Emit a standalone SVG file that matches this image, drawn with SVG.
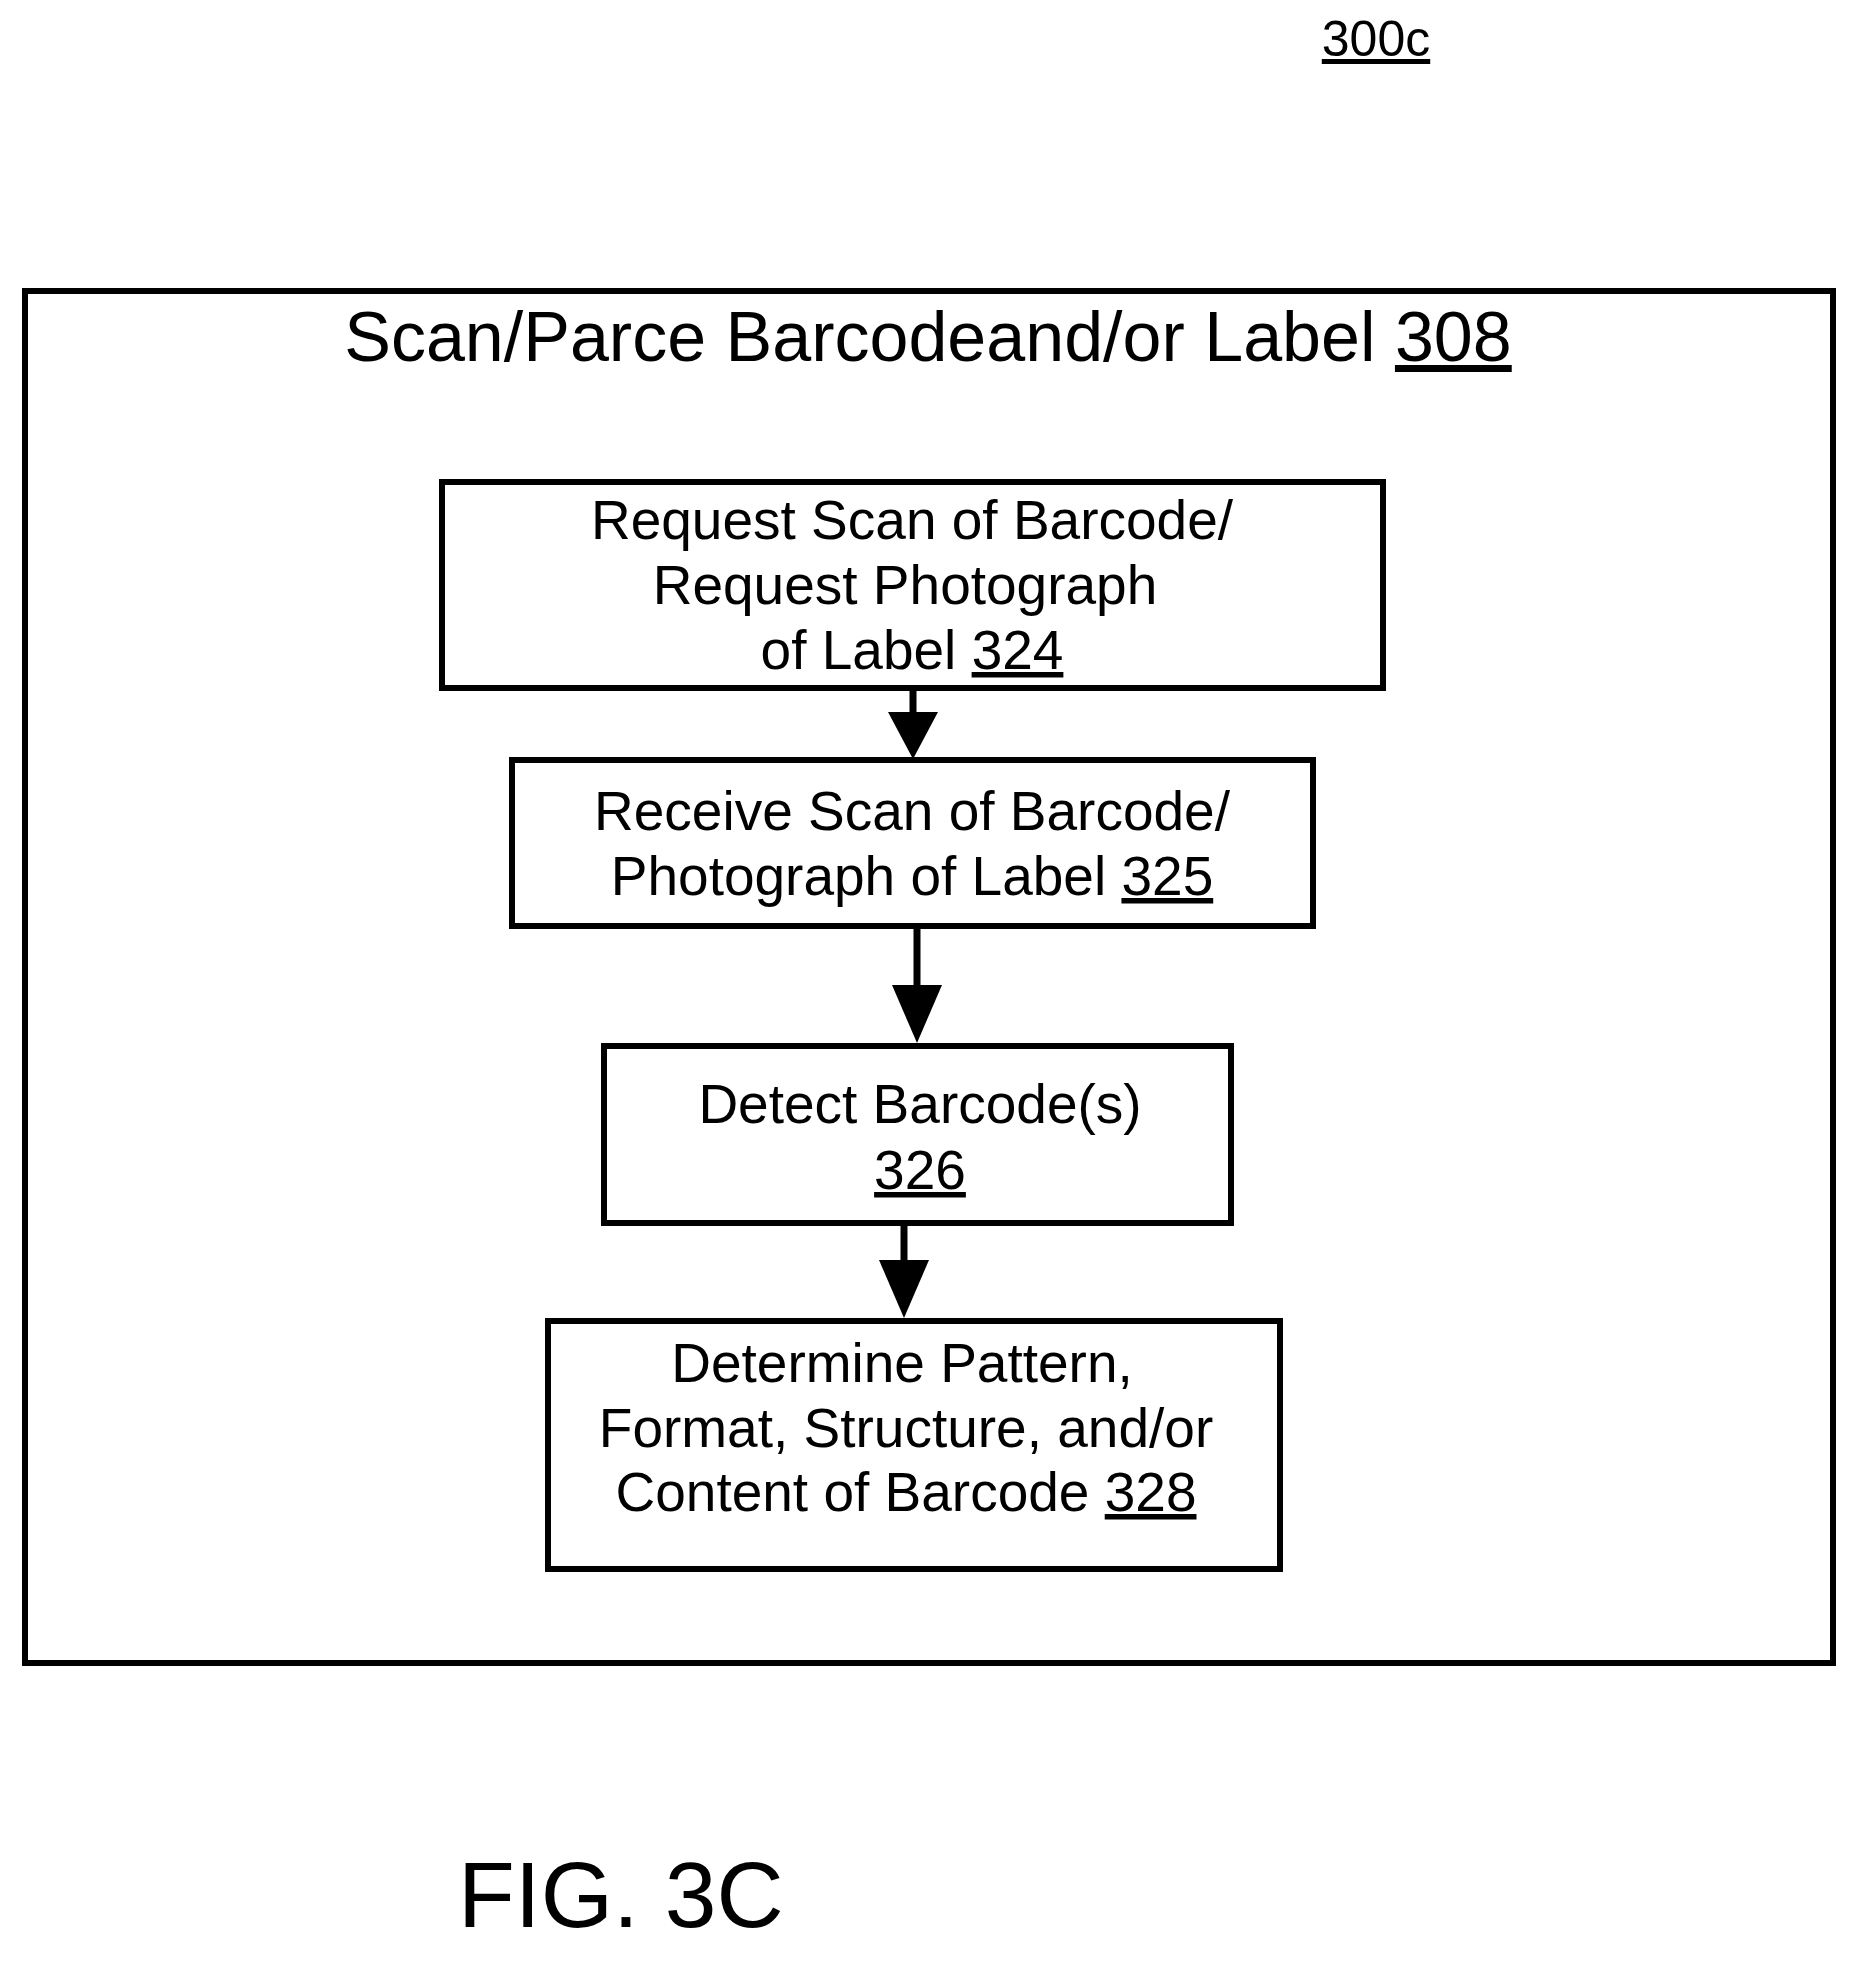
<svg xmlns="http://www.w3.org/2000/svg" width="1868" height="1964" viewBox="0 0 1868 1964">
<style>
.b{fill:none;stroke:#000;stroke-width:6}
.t{font-family:"Liberation Sans",Arial,sans-serif;font-size:55px;text-anchor:middle;fill:#000}
.c{stroke:#000;stroke-width:7}
</style>
<defs><marker id="a" markerWidth="8" markerHeight="8" refX="7" refY="4" orient="auto" markerUnits="strokeWidth"><path d="M0,0 L7,4 L0,8 z" fill="#000"/></marker></defs>
<rect width="1868" height="1964" fill="#fff"/>
<text x="1376" y="56" class="t" style="font-size:50px;text-decoration:underline">300c</text>
<g id="outer"><rect class="b" x="25" y="291" width="1808" height="1372"/>
<text x="928" y="361" class="t" style="font-size:70px">Scan/Parce Barcodeand/or Label <tspan text-decoration="underline">308</tspan></text></g>
<g id="n324"><rect class="b" x="442" y="482" width="941" height="206"/>
<text class="t" x="912" y="539">Request Scan of Barcode/</text><text class="t" x="905" y="604">Request Photograph</text><text class="t" x="912" y="669">of Label <tspan text-decoration="underline">324</tspan></text></g>
<g id="n325"><rect class="b" x="512" y="760" width="801" height="166"/>
<text class="t" x="912" y="830">Receive Scan of Barcode/</text><text class="t" x="912" y="895">Photograph of Label <tspan text-decoration="underline">325</tspan></text></g>
<g id="n326"><rect class="b" x="604" y="1046" width="627" height="177"/>
<text class="t" x="920" y="1123">Detect Barcode(s)</text><text class="t" x="920" y="1189" text-decoration="underline">326</text></g>
<g id="n328"><rect class="b" x="548" y="1321" width="732" height="248"/>
<text class="t" x="902" y="1382">Determine Pattern,</text><text class="t" x="906" y="1447">Format, Structure, and/or</text><text class="t" x="906" y="1511">Content of Barcode <tspan text-decoration="underline">328</tspan></text></g>
<g id="connectors">
<line class="c" x1="913" y1="691" x2="913" y2="712"/><path d="M888,712 L938,712 L913,759 z"/>
<line class="c" x1="917" y1="929" x2="917" y2="985"/><path d="M892,985 L942,985 L917,1043 z"/>
<line class="c" x1="904" y1="1226" x2="904" y2="1260"/><path d="M879,1260 L929,1260 L904,1318 z"/>
</g>
<text x="458" y="1927" style="font-family:'Liberation Sans',Arial,sans-serif;font-size:93px">FIG. 3C</text>
</svg>
